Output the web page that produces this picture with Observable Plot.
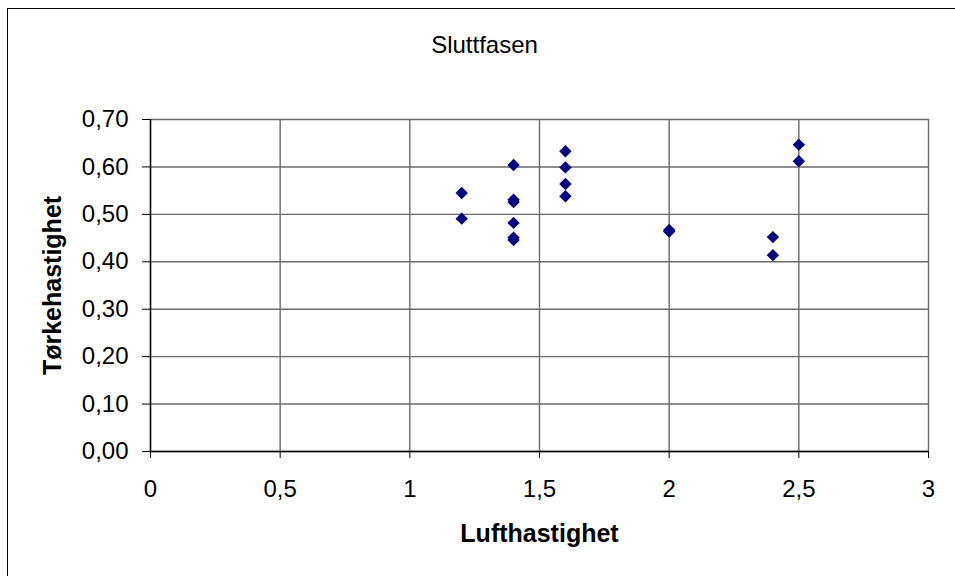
<!DOCTYPE html>
<html>
<head>
<meta charset="utf-8">
<script src="https://cdn.jsdelivr.net/npm/d3@7"></script>
<script src="https://cdn.jsdelivr.net/npm/@observablehq/plot@0.6"></script>
<style>
  html, body { margin: 0; padding: 0; background: #fff; }
  #wrap { position: relative; width: 955px; height: 576px; overflow: hidden; }
  #border { position: absolute; left: 7px; top: 8px; width: 960px; height: 600px; border: 1px solid #000; box-sizing: border-box; }
  #chart { position: absolute; left: 0; top: 0; }
</style>
</head>
<body>
<div id="wrap"><div id="border"></div><div id="chart"></div></div>
<script>
const title = "Sluttfasen";
const xLabel = "Lufthastighet";
const yLabel = "Tørkehastighet";
const xTicks = [0, 0.5, 1, 1.5, 2, 2.5, 3];
const yTicks = [0, 0.1, 0.2, 0.3, 0.4, 0.5, 0.6, 0.7];
const lufthastighet = [1.2, 1.2, 1.4, 1.4, 1.4, 1.4, 1.4, 1.4, 1.6, 1.6, 1.6, 1.6, 2.0, 2.0, 2.4, 2.4, 2.5, 2.5];
const torkehastighet = [0.545, 0.491, 0.604, 0.531, 0.526, 0.482, 0.451, 0.446, 0.633, 0.599, 0.564, 0.538, 0.467, 0.464, 0.452, 0.414, 0.647, 0.612];

const data = lufthastighet.map((x, i) => ({x, y: torkehastighet[i]}));
const comma = s => s.replace(".", ",");
const font = "Liberation Sans, Arial, sans-serif";

const chart = Plot.plot({
  width: 955,
  height: 576,
  marginLeft: 150,
  marginRight: 27,
  marginTop: 119,
  marginBottom: 125,
  style: {fontFamily: font, fontSize: "24px", color: "#000", background: "transparent"},
  x: {domain: [0, 3]},
  y: {domain: [0, 0.7]},
  marks: [
    Plot.gridX(xTicks, {stroke: "#6a6a6a", strokeOpacity: 1, strokeWidth: 1.4}),
    Plot.gridY(yTicks, {stroke: "#6a6a6a", strokeOpacity: 1, strokeWidth: 1.4}),
    Plot.axisX({ticks: xTicks, tickFormat: d => comma(String(d)), tickSize: 7, tickPadding: 21, label: null, stroke: "#000", fontSize: 24}),
    Plot.axisY({ticks: yTicks, tickFormat: d => comma(d.toFixed(2)), tickSize: 8, tickPadding: 14, label: null, stroke: "#000", fontSize: 24}),
    Plot.ruleX([0], {stroke: "#000", strokeWidth: 1.4}),
    Plot.ruleY([0], {stroke: "#000", strokeWidth: 1.4}),
    Plot.dot(data, {x: "x", y: "y", symbol: "diamond2", r: 5.6, fill: "#000080", stroke: "none"}),
    Plot.text([title], {frameAnchor: "top", dy: -74, dx: -55, lineAnchor: "middle", fontSize: 24, fill: "#000"}),
    Plot.text([xLabel], {frameAnchor: "bottom", dy: 82, lineAnchor: "middle", fontSize: 25, fontWeight: "bold", fill: "#000"}),
    Plot.text([yLabel], {frameAnchor: "left", dx: -98, rotate: -90, textAnchor: "middle", lineAnchor: "middle", fontSize: 25, fontWeight: "bold", fill: "#000"})
  ]
});
document.getElementById("chart").appendChild(chart);
</script>
</body>
</html>
